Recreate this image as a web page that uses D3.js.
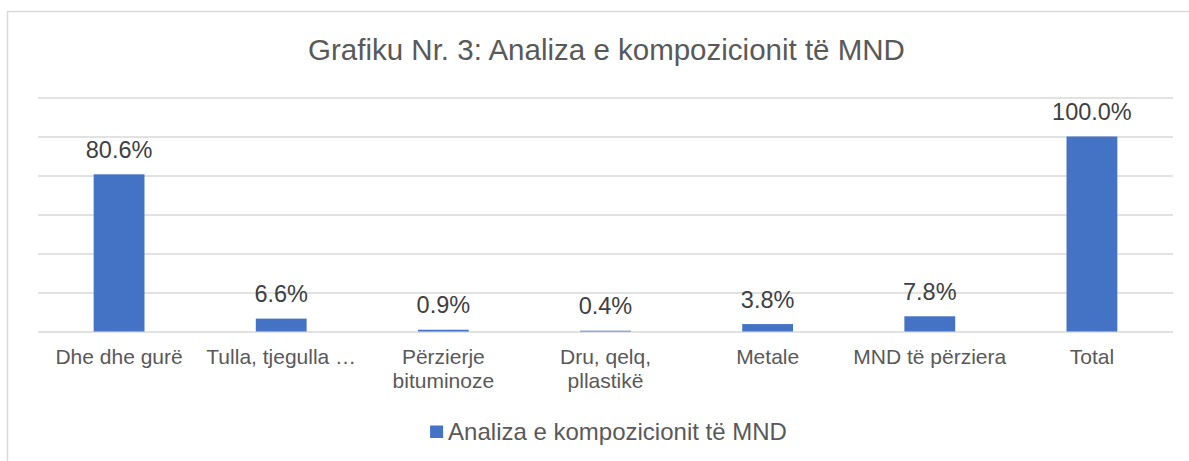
<!DOCTYPE html>
<html>
<head>
<meta charset="utf-8">
<script src="https://cdn.jsdelivr.net/npm/d3@7"></script>
<style>
    body { margin: 0; background: #fff; }
    text { font-family: "Liberation Sans", Arial, sans-serif; }
</style>
</head>
<body>
<div id="graph-container"></div>
<script>
const WIDTH = 1189,
    HEIGHT = 461;

const margin = {
    top: 97.5,
    bottom: 129.5,
    left: 38,
    right: 16,
};

const width = WIDTH - margin.left - margin.right,
    height = HEIGHT - margin.top - margin.bottom;

// data
const categories = [
    'Dhe dhe gurë',
    'Tulla, tjegulla …',
    'Përzierje\nbituminoze',
    'Dru, qelq,\npllastikë',
    'Metale',
    'MND të përziera',
    'Total',
];
const values = [80.6, 6.6, 0.9, 0.4, 3.8, 7.8, 100.0];
const gridTicks = [0, 20, 40, 60, 80, 100, 120];

const title = 'Grafiku Nr. 3: Analiza e kompozicionit të MND';
const seriesName = 'Analiza e kompozicionit të MND';

const barColor = '#4472C4';
const gridColor = '#d9d9d9';

const data = categories.map((c, i) => ({ cat: c, value: values[i] }));

const svg = d3.select('#graph-container').append('svg')
    .attr('width', WIDTH)
    .attr('height', HEIGHT);

// chart border (runs off the right and bottom edge)
svg.append('rect')
    .attr('x', 7.5)
    .attr('y', 11.5)
    .attr('width', 1300)
    .attr('height', 600)
    .attr('fill', 'none')
    .attr('stroke', gridColor)
    .attr('stroke-width', 1.5);

svg.append('text')
    .attr('x', 606.5)
    .attr('y', 60)
    .attr('text-anchor', 'middle')
    .style('font-size', '29.5px')
    .style('fill', '#595959')
    .text(title);

const container = svg.append('g')
    .attr('transform', `translate(${margin.left} ${margin.top})`);

const gap = 1 - 1 / 3.19;
const xScale = d3.scaleBand()
    .domain(categories)
    .range([0, width])
    .paddingInner(gap)
    .paddingOuter(gap / 2);

const yScale = d3.scaleLinear()
    .domain([0, 120])
    .range([height, 0]);

// gridlines
const yAxis = d3.axisLeft(yScale)
    .tickValues(gridTicks)
    .tickSize(-width)
    .tickFormat('');

container.append('g')
    .call(yAxis)
    .call((g) => g.select('.domain').remove())
    .call((g) => g.selectAll('.tick line')
        .attr('stroke', gridColor)
        .attr('stroke-width', 1.5));

// bars
container.selectAll('rect.bar')
    .data(data)
    .join('rect')
    .attr('class', 'bar')
    .attr('x', (d) => xScale(d.cat))
    .attr('width', xScale.bandwidth())
    .attr('y', (d) => yScale(d.value))
    .attr('height', (d) => height - yScale(d.value))
    .attr('fill', barColor);

// value labels
container.selectAll('text.value')
    .data(data)
    .join('text')
    .attr('class', 'value')
    .attr('x', (d) => xScale(d.cat) + xScale.bandwidth() / 2)
    .attr('y', (d) => yScale(d.value) - 16.5)
    .attr('text-anchor', 'middle')
    .style('font-size', '23.5px')
    .style('fill', '#404040')
    .text((d) => d3.format('.1f')(d.value) + '%');

// category labels
const xAxis = d3.axisBottom(xScale).tickSize(0).tickFormat('');
const xg = container.append('g')
    .attr('transform', `translate(0, ${height})`)
    .call(xAxis);
xg.select('.domain').remove();

xg.selectAll('.tick').each(function (d) {
    const t = d3.select(this).append('text')
        .attr('text-anchor', 'middle')
        .attr('y', 32.5)
        .style('font-size', '21px')
        .style('fill', '#595959');
    d.split('\n').forEach((line, i) => {
        t.append('tspan')
            .attr('x', 0)
            .attr('dy', i === 0 ? 0 : 23.5)
            .text(line);
    });
});

// legend
const legend = svg.append('g');
legend.append('rect')
    .attr('x', 0)
    .attr('y', -14.5)
    .attr('width', 13)
    .attr('height', 12.5)
    .attr('fill', barColor);
const legendText = legend.append('text')
    .attr('x', 18)
    .attr('y', 0)
    .style('font-size', '24px')
    .style('fill', '#595959')
    .text(seriesName);
const legendWidth = 18 + legendText.node().getComputedTextLength();
legend.attr('transform', `translate(${608.5 - legendWidth / 2}, 440)`);
</script>
</body>
</html>
